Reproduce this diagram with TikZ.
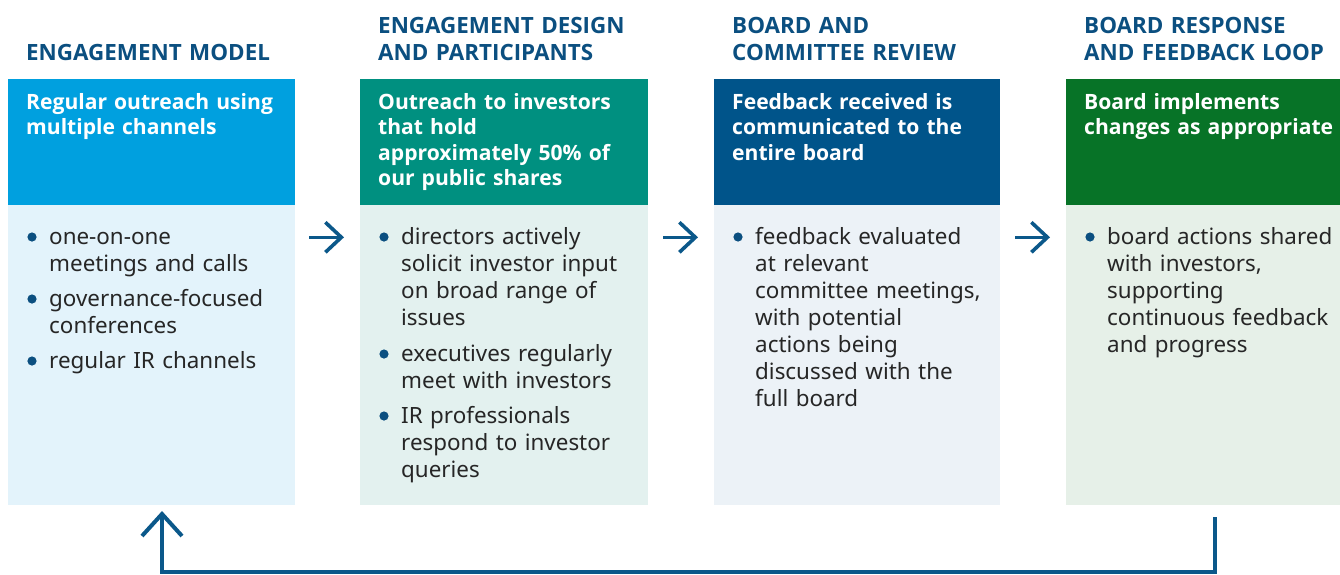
\documentclass[tikz,border=0pt]{standalone}
\usepackage{fontspec}
\setmainfont{Noto Sans}
\newfontfamily\heavyfont{Open Sans}
\usetikzlibrary{calc,arrows.meta}

\definecolor{titleblue}{RGB}{11,79,128}
\definecolor{arrowblue}{RGB}{11,88,138}
\definecolor{bodytext}{RGB}{38,38,38}
\definecolor{headA}{RGB}{0,160,223}
\definecolor{headB}{RGB}{0,144,128}
\definecolor{headC}{RGB}{0,84,138}
\definecolor{headD}{RGB}{7,115,39}
\definecolor{bodyA}{RGB}{227,243,251}
\definecolor{bodyB}{RGB}{227,241,239}
\definecolor{bodyC}{RGB}{236,242,247}
\definecolor{bodyD}{RGB}{230,240,232}

\tikzset{
  headbox/.style={anchor=north west, inner sep=0pt, minimum height=126pt},
  bodybox/.style={anchor=north west, inner sep=0pt, minimum height=300pt},
  coltitle/.style={anchor=base west, inner sep=0pt, text width=300pt, align=left,
    text=titleblue, font=\heavyfont\bfseries\fontsize{22.4}{26.7}\selectfont},
  headtext/.style={anchor=base west, inner sep=0pt, text width=280pt, align=left,
    text=white, font=\heavyfont\bfseries\fontsize{21.1}{25.6}\selectfont},
  itemtext/.style={anchor=base west, inner sep=0pt, text width=300pt, align=left,
    text=bodytext, font=\fontsize{22.4}{27}\selectfont},
  bulletdot/.style={fill=titleblue},
  steparrow/.style={draw=arrowblue, line width=3.6pt,
    -{Straight Barb[length=16pt, width=30pt, line width=3.6pt]}},
  looparrow/.style={draw=arrowblue, line width=4pt}
}

\newcommand{\dotat}[1]{\fill[bulletdot] ($(#1.base west)+(-17,-7)$) circle (4.6pt);}

\begin{document}
\begin{tikzpicture}[x=1pt,y=-1pt]
\useasboundingbox (0,0) rectangle (1340,574);

% column titles
\node[coltitle] (t1) at (26,60) {ENGAGEMENT MODEL};
\node[coltitle] (t2) at (378,33.3) {ENGAGEMENT DESIGN\\AND PARTICIPANTS};
\node[coltitle] (t3) at (732,33.3) {BOARD AND\\COMMITTEE REVIEW};
\node[coltitle] (t4) at (1084,33.3) {BOARD RESPONSE\\AND FEEDBACK LOOP};

% coloured header boxes
\node[headbox, fill=headA, minimum width=287pt] (h1) at (8,79) {};
\node[headbox, fill=headB, minimum width=288pt] (h2) at (360,79) {};
\node[headbox, fill=headC, minimum width=286pt] (h3) at (714,79) {};
\node[headbox, fill=headD, minimum width=274pt] (h4) at (1066,79) {};

% light body boxes
\node[bodybox, fill=bodyA, minimum width=287pt] (b1) at (8,205) {};
\node[bodybox, fill=bodyB, minimum width=288pt] (b2) at (360,205) {};
\node[bodybox, fill=bodyC, minimum width=286pt] (b3) at (714,205) {};
\node[bodybox, fill=bodyD, minimum width=274pt] (b4) at (1066,205) {};

% header statements
\node[headtext] (s1) at (26,109) {Regular outreach using\\multiple channels};
\node[headtext] (s2) at (378,109) {Outreach to investors\\that hold\\approximately 50\% of\\our public shares};
\node[headtext] (s3) at (732,109) {Feedback received is\\communicated to the\\entire board};
\node[headtext] (s4) at (1084,109) {Board implements\\changes as appropriate};

% bullet lists
\node[itemtext] (i11) at (49,244) {one-on-one\\meetings and calls};
\node[itemtext] (i12) at (49,306) {governance-focused\\conferences};
\node[itemtext] (i13) at (49,368) {regular IR channels};

\node[itemtext] (i21) at (401,244) {directors actively\\solicit investor input\\on broad range of\\issues};
\node[itemtext] (i22) at (401,361) {executives regularly\\meet with investors};
\node[itemtext] (i23) at (401,423) {IR professionals\\respond to investor\\queries};

\node[itemtext] (i31) at (755,244) {feedback evaluated\\at relevant\\committee meetings,\\with potential\\actions being\\discussed with the\\full board};

\node[itemtext] (i41) at (1107,244) {board actions shared\\with investors,\\supporting\\continuous feedback\\and progress};

\foreach \n in {i11,i12,i13,i21,i22,i23,i31,i41} {\dotat{\n}}

% step arrows between columns
\coordinate (a1s) at (309,237.3);
\coordinate (a1e) at (344,237.3);
\coordinate (a2s) at (663,237.3);
\coordinate (a2e) at (698,237.3);
\coordinate (a3s) at (1015,237.3);
\coordinate (a3e) at (1050,237.3);
\draw[steparrow] (a1s) -- (a1e);
\draw[steparrow] (a2s) -- (a2e);
\draw[steparrow] (a3s) -- (a3e);

% feedback loop back to the first column
\coordinate (ls) at (1214.5,517);
\coordinate (le) at (162,511);
\coordinate (lbot) at (0,571.8);
\draw[looparrow, -{Straight Barb[length=22pt, width=40pt, line width=4pt]}]
  (ls) -- (ls |- lbot) -- (le |- lbot) -- (le);
\end{tikzpicture}
\end{document}
